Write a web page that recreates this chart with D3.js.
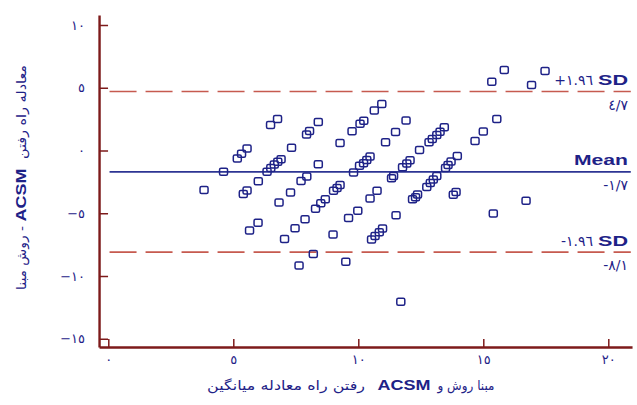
<!DOCTYPE html>
<html><head><meta charset="utf-8">
<script src="https://cdn.jsdelivr.net/npm/d3@7"></script>
<style>body{margin:0;background:#fff}svg{display:block}</style>
</head><body>
<svg id="c" width="637" height="405"></svg>
<script>
// Mean of the two methods (x) and difference (y)
const meanVals = [3.83,4.61,5.16,5.33,5.55,5.40,5.55,6.00,5.99,5.65,
  6.35,6.50,6.64,6.78,6.91,6.49,6.77,6.83,7.05,7.29,
  7.33,7.47,7.71,7.94,7.63,7.87,7.93,8.05,8.40,8.40,
  8.20,8.29,8.50,8.68,8.99,9.01,9.15,9.27,9.27,9.50,
  9.61,9.98,9.75,9.81,10.05,10.21,10.34,10.47,10.07,10.22,
  10.64,10.94,10.47,10.75,10.53,10.67,10.84,10.97,11.09,11.49,
  11.91,11.33,11.41,11.51,11.77,11.94,12.07,11.70,12.17,12.29,
  12.37,12.45,12.74,12.88,13.00,13.14,12.83,12.96,13.14,13.27,
  13.44,13.49,13.59,13.71,13.96,13.80,13.91,14.67,15.00,15.54,
  15.40,16.71,15.34,15.84,16.93,17.47];
const diffVals = [-3.15,-1.69,-0.64,-0.26,0.16,-3.47,-3.19,-2.45,-5.75,-6.37,
  -1.69,-1.39,-1.12,-0.90,-0.70,2.03,2.51,-4.14,-7.05,-3.35,
  0.22,-6.20,-2.43,-2.07,-9.16,-5.48,1.27,1.55,2.27,-1.09,
  -8.25,-4.64,-4.20,-3.89,-6.69,-3.20,-2.99,-2.75,0.60,-8.86,
  -5.38,-4.80,1.54,-1.75,-1.22,-1.02,-0.76,-0.48,2.13,2.37,
  3.19,3.71,-3.82,-3.20,-7.09,-6.81,-6.51,-6.22,0.66,1.47,
  2.39,-2.22,-2.03,-5.16,-1.33,-1.04,-0.78,-12.05,-3.89,-3.73,
  -3.51,0.04,-2.91,-2.59,-2.31,-2.03,0.65,0.92,1.24,1.50,
  1.85,-1.39,-1.16,-0.88,-0.44,-3.52,-3.31,0.76,1.51,2.51,
  -5.02,-4.00,5.48,6.41,5.22,6.33];

const xTicks = [0,5,10,15,20];
const xTickLabels = ["٠","٥","١٠","١٥","٢٠"];
const yTicks = [10,5,0,-5,-10,-15];
const yTickLabels = ["١٠","٥","٠","−٥","−١٠","−١٥"];

const refValues = [4.7,-1.7,-8.1];
const refNames = ["SD","Mean","SD"];
const refPrefix = ["+١.٩٦","","-١.٩٦"];
const refValueLabels = ["٤/٧","-١/٧","-٨/١"];

const NAVY = "#1e2287", AXIS = "#7d1a1a", DASH = "#c65a4f", MEANC = "#2d3593";
const AR = "'DejaVu Sans', sans-serif";
const LAT = "'Liberation Sans', Arial, sans-serif";

const svg = d3.select("#c");
const x = d3.scaleLinear().domain([0,20]).range([108.3,608.3]);
const y = d3.scaleLinear().domain([-15,10]).range([150.5+15*12.55,150.5-10*12.55]);

const xA = d3.scaleLinear().domain([-0.37,20.95]).range([x(-0.37),x(20.95)]);
const yA = d3.scaleLinear().domain([-15.66,10.8]).range([y(-15.66),y(10.8)]);

// reference lines
const gl = svg.append("g");
refValues.forEach((v,i)=>{
  gl.append("line").attr("x1",x(0.05)).attr("x2",xA(20.9))
    .attr("y1",y(v)).attr("y2",y(v))
    .attr("stroke", i===1?MEANC:DASH).attr("stroke-width", i===1?1.8:1.6)
    .attr("stroke-dasharray", i===1?null:"27,9");
});

// points
svg.append("g").selectAll("rect").data(meanVals.map((m,i)=>[m,diffVals[i]])).join("rect")
  .attr("x",d=>x(d[0])-4).attr("y",d=>y(d[1])-3.5)
  .attr("width",8).attr("height",7).attr("rx",1.5)
  .attr("fill","none").attr("stroke",NAVY).attr("stroke-width",1.5);

// axes
const gy = svg.append("g").attr("transform",`translate(${xA(-0.37)},0)`)
  .call(d3.axisLeft(yA).tickValues(yTicks).tickSizeInner(-9).tickSizeOuter(0).tickPadding(14)
    .tickFormat((d,i)=>yTickLabels[i]));
const gx = svg.append("g").attr("transform",`translate(0,${yA(-15.66)})`)
  .call(d3.axisBottom(xA).tickValues(xTicks).tickSizeInner(-8).tickSizeOuter(0).tickPadding(8)
    .tickFormat((d,i)=>xTickLabels[i]));
[gx,gy].forEach(g=>{
  g.select(".domain").attr("stroke",AXIS).attr("stroke-width",2.4);
  g.selectAll(".tick line").attr("stroke",AXIS).attr("stroke-width",1.5);
  g.selectAll(".tick text").attr("fill",NAVY).attr("font-family",AR).attr("font-size",13);
});

// reference labels
const gr = svg.append("g");
refValues.forEach((v,i)=>{
  const yy = y(v);
  gr.append("text").attr("x",628).attr("y",yy-(i===1?7:6.5)).attr("text-anchor","end")
    .attr("font-family",LAT).attr("font-weight","bold").attr("font-size",i===1?14:15)
    .attr("fill",NAVY).attr("textLength",i===1?54:30).attr("lengthAdjust","spacingAndGlyphs")
    .text(refNames[i]);
  if(refPrefix[i]) gr.append("text").attr("x",593).attr("y",yy-6.5).attr("text-anchor","end")
    .attr("font-family",AR).attr("font-size",14).attr("fill",NAVY).text(refPrefix[i]);
  gr.append("text").attr("x",628).attr("y",yy+18).attr("text-anchor","end")
    .attr("font-family",AR).attr("font-size",14).attr("fill",NAVY).text(refValueLabels[i]);
});

// y title (rotated, pieces)
const yt = [
  {t:"معادله راه رفتن", c:112, f:AR, w:"normal", s:13, len:94, rtl:true},
  {t:"ACSM", c:195, f:LAT, w:"bold", s:15, len:53},
  {t:"- روش مبنا", c:258, f:AR, w:"normal", s:13, len:64, rtl:true}
];
yt.forEach(o=>{
  const t = svg.append("text").attr("x",21).attr("y",o.c).attr("dy","0.35em")
    .attr("transform",`rotate(-90,21,${o.c})`).attr("text-anchor","middle")
    .attr("font-family",o.f).attr("font-weight",o.w).attr("font-size",o.s).attr("fill",NAVY)
    .text(o.t);
  if(o.rtl) t.attr("direction","rtl").style("unicode-bidi","embed");
  if(o.len) t.attr("textLength",o.len).attr("lengthAdjust","spacingAndGlyphs");
});

// x title (words laid out left-to-right as in the figure)
const xt = [
  {t:"رفتن راه معادله میانگین", c:286, f:AR, w:"normal", s:13, len:158},
  {t:"ACSM", c:404, f:LAT, w:"bold", s:15, len:53},
  {t:"مبنا روش و", c:466, f:AR, w:"normal", s:13, len:57}
];
xt.forEach(o=>{
  const t = svg.append("text").attr("x",o.c).attr("y",390).attr("text-anchor","middle")
    .attr("font-family",o.f).attr("font-weight",o.w).attr("font-size",o.s).attr("fill",NAVY)
    .text(o.t);
  if(o.len) t.attr("textLength",o.len).attr("lengthAdjust","spacingAndGlyphs");
});
</script>
</body></html>
